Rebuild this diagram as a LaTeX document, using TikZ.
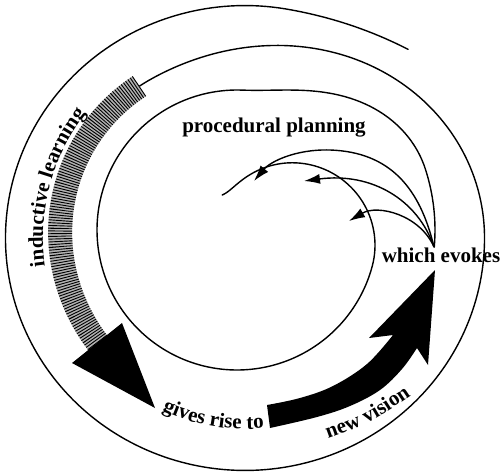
\documentclass[tikz,border=0pt]{standalone}
\usepackage{fontspec}
\setmainfont{Liberation Serif}
\usetikzlibrary{arrows.meta,decorations.text}
\newcommand\lblfont{\fontsize{10.5}{12}\selectfont\bfseries}
\begin{document}
\begin{tikzpicture}[x=0.5pt,y=-0.5pt,
  declare function={
    ro(\t)=236+14*(max(0,(80-\t)/30))^2-25*(1-cos(180*min(max((\t-360)/120,0),1)));
    rb(\t)=186-3*(1-cos(180*min(max((\t-484)/93,0),1)));
    ri(\t)=140+29*(1+cos(180*min(max((\t-18)/70,0),1)))-51*(1-cos(180*min(max((\t-345)/128,0),1)));
  },
  ring/.style={line width=0.7pt, line cap=round},
  lbl/.style={font=\lblfont, inner sep=0pt},
  curvedlbl/.style={decorate, decoration={text along path, text align=center, text={|\lblfont|#1}}},
  evoke/.style={line width=0.7pt, -{Latex[length=8pt,width=5pt]}},
  bandbase/.style={line width=12pt, black!30},
  bandhatch/.style={line width=12pt, black, dash pattern=on 0.45pt off 0.85pt}
]
\useasboundingbox (0,0) rectangle (503,471);
% outer spiral loop
\draw[ring] plot[domain=50:484, samples=300, variable=\t]
  ({245+1.015*ro(\t)*cos(\t)}, {238-0.985*ro(\t)*sin(\t)});
% hatched band
\draw[bandbase] plot[domain=484:577, samples=80, variable=\t]
  ({245+1.015*rb(\t)*cos(\t)}, {238-0.985*rb(\t)*sin(\t)});
\draw[bandhatch] plot[domain=484:577, samples=80, variable=\t]
  ({245+1.015*rb(\t)*cos(\t)}, {238-0.985*rb(\t)*sin(\t)});
% big arrowhead
\fill (72,363) -- (122,323) -- (155,408) -- cycle;
% new vision arrow
\fill plot[smooth, tension=0.6] coordinates {(270,428) (317,417) (350,406) (380,390) (402,369) (417,348)}
  -- (428,365) -- (435,270) -- (369,338)
  -- plot[smooth, tension=0.6] coordinates {(393,335) (367,364) (333,386) (300,398) (267,405)} -- cycle;
% inner spiral
\draw[ring] plot[domain=-5:473, samples=300, variable=\t]
  ({237+ri(\t)*cos(\t)}, {230-ri(\t)*sin(\t)});
\coordinate (E) at (434,247);
\coordinate (A1) at (254,181);
\coordinate (A2) at (304,181);
\coordinate (A3) at (349,221);
\draw[evoke] (E) .. controls (420,188) and (390,152) .. (330,150) .. controls (295,149) and (270,162) .. (A1);
\draw[evoke] (E) .. controls (418,200) and (372,172) .. (A2);
\draw[evoke] (E) .. controls (420,215) and (378,204) .. (A3);
% labels
\node[lbl, anchor=base] (pp) at (274,132) {procedural planning};
\node[lbl, anchor=base] (we) at (441,262) {which evokes};
\path[curvedlbl={inductive learning}] (245,238) ++(170:202) arc[start angle=170, end angle=220, radius=202];
\path[curvedlbl={gives rise to}] (245,238) ++(117:191) arc[start angle=117, end angle=83, radius=191];
\path[curvedlbl={new vision}] (319,442) .. controls (369,424) .. (419,390);
\end{tikzpicture}
\end{document}
